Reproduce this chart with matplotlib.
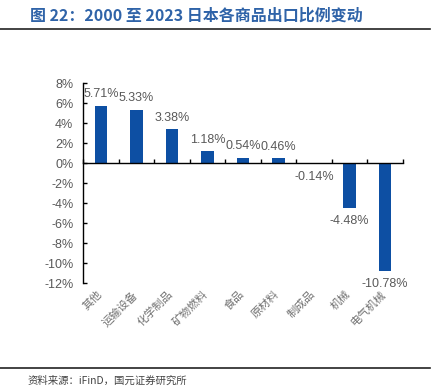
import matplotlib
matplotlib.use("Agg")
import matplotlib.pyplot as plt
from matplotlib.lines import Line2D

plt.rcParams['font.family'] = ['Noto Sans CJK SC', 'DejaVu Sans']

categories = ["其他", "运输设备", "化学制品", "矿物燃料", "食品", "原材料", "制成品", "机械", "电气机械"]
values = [5.71, 5.33, 3.38, 1.18, 0.54, 0.46, -0.14, -4.48, -10.78]
yticks = [8, 6, 4, 2, 0, -2, -4, -6, -8, -10, -12]

W, H = 439, 391
fig = plt.figure(figsize=(W/100, H/100), dpi=100)
ax = fig.add_axes([83/W, 1-283/H, 320/W, 200/H])

bar_color = "#0D4FA3"
gray = "#595959"
x = list(range(len(categories)))
ax.bar(x, values, width=0.35, color=bar_color, zorder=2)
ax.set_xlim(-0.5, len(categories)-0.5)
ax.set_ylim(-12, 8)
ax.set_yticks(yticks)
ax.set_yticklabels([f"{v}%" for v in yticks], fontfamily="Liberation Sans", fontsize=9, color=gray)

for s in ["top", "right"]:
    ax.spines[s].set_visible(False)
ax.spines["bottom"].set_position(("data", 0))
ax.spines["left"].set_linewidth(1.0)
ax.spines["bottom"].set_linewidth(1.0)
ax.tick_params(axis="y", direction="in", length=3, width=1, pad=7)
ax.set_xticks([i + 0.5 for i in range(-1, len(categories))])
ax.tick_params(axis="x", direction="in", length=3, width=1, labelbottom=False)

for i, v in enumerate(values):
    if v >= 0:
        ax.annotate(f"{v:.2f}%", (i, v), xytext=(0, 4), textcoords="offset points",
                    ha="center", va="bottom", fontsize=9, color=gray, fontfamily="Liberation Sans")
    else:
        ax.annotate(f"{v:.2f}%", (i, v), xytext=(0, -5), textcoords="offset points",
                    ha="center", va="top", fontsize=9, color=gray, fontfamily="Liberation Sans")

# category labels rotated
for i, c in enumerate(categories):
    ax.text(i + 0.08, -12.6, c, rotation=45, ha="right", va="top", fontsize=8, color="#707070",
            transform=ax.transData, clip_on=False)

fig.text(30/W, 1-16/H, "图 22：2000 至 2023 日本各商品出口比例变动", fontsize=11.5, fontweight="bold",
         color="#2F63A8", va="center", ha="left")
fig.add_artist(Line2D([0, 430/W], [1-29/H, 1-29/H], color="#222222", lw=1.2, transform=fig.transFigure))
fig.add_artist(Line2D([0, 430/W], [1-368/H, 1-368/H], color="#222222", lw=1.2, transform=fig.transFigure))
fig.text(28/W, 1-381/H, "资料来源：iFinD，国元证券研究所", fontsize=7.5, color="#444444", va="center", ha="left")

fig.savefig("out.png", dpi=100)
